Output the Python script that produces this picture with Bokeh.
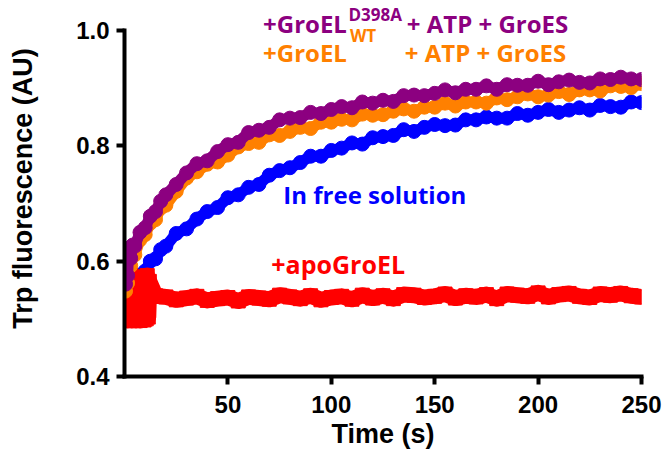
from bokeh.plotting import figure
from bokeh.models import Label, FixedTicker, PrintfTickFormatter, Range1d
from bokeh.embed import file_html
from bokeh.resources import INLINE

# ---------------- data ----------------
t_main = [0.5, 1, 1.5, 2, 3, 4, 5, 7.5, 10, 12.5, 15, 17.5,
          20, 25, 30, 35, 40, 45, 50, 55, 60, 65, 70, 75, 80, 85, 90, 95,
          100, 105, 110, 115, 120, 125, 130, 135, 140, 145, 150, 155, 160,
          165, 170, 175, 180, 185, 190, 195, 200, 205, 210, 215, 220, 225,
          230, 235, 240, 245, 250]

groel_d398a = [0.560, 0.622, 0.575, 0.615, 0.605, 0.628, 0.626, 0.650, 0.658, 0.678, 0.686, 0.704,
               0.715, 0.733, 0.753, 0.769, 0.774, 0.790, 0.802, 0.806, 0.823, 0.827, 0.832, 0.845,
               0.848, 0.849, 0.858, 0.856, 0.863, 0.868, 0.866, 0.876, 0.874, 0.879, 0.877, 0.887,
               0.888, 0.887, 0.891, 0.897, 0.892, 0.898, 0.898, 0.904, 0.898, 0.906, 0.905, 0.905,
               0.912, 0.906, 0.911, 0.914, 0.910, 0.909, 0.916, 0.915, 0.919, 0.916, 0.915]

groel_wt = [0.548, 0.585, 0.562, 0.592, 0.592, 0.612, 0.611, 0.637, 0.646, 0.666, 0.672, 0.692,
            0.697, 0.721, 0.744, 0.755, 0.768, 0.772, 0.784, 0.798, 0.804, 0.806, 0.819, 0.818,
            0.825, 0.832, 0.830, 0.841, 0.841, 0.846, 0.845, 0.855, 0.853, 0.854, 0.860, 0.864,
            0.860, 0.867, 0.867, 0.874, 0.869, 0.876, 0.876, 0.874, 0.883, 0.880, 0.885, 0.890,
            0.885, 0.888, 0.894, 0.889, 0.897, 0.897, 0.895, 0.904, 0.903, 0.901, 0.908]

free_solution = [0.526, 0.538, 0.532, 0.548, 0.547, 0.559, 0.558, 0.576, 0.583, 0.600, 0.604, 0.620,
                 0.626, 0.648, 0.656, 0.673, 0.686, 0.693, 0.710, 0.715, 0.728, 0.733, 0.749, 0.757,
                 0.762, 0.771, 0.782, 0.782, 0.792, 0.796, 0.805, 0.803, 0.814, 0.816, 0.818, 0.828,
                 0.825, 0.832, 0.837, 0.835, 0.836, 0.845, 0.845, 0.850, 0.848, 0.848, 0.856, 0.853,
                 0.858, 0.863, 0.858, 0.862, 0.866, 0.862, 0.870, 0.868, 0.867, 0.876, 0.875]

t_apo = [0.5, 1, 1.5, 2, 2.5, 3, 3.5, 4, 4.5, 5, 5.5, 6, 6.5, 7, 7.5, 8, 8.5, 9, 9.5, 10,
         10.5, 11, 11.5, 12, 15,
         20, 25, 30, 35, 40, 45, 50, 55, 60, 65, 70, 75, 80, 85, 90, 95,
         100, 105, 110, 115, 120, 125, 130, 135, 140, 145, 150, 155, 160,
         165, 170, 175, 180, 185, 190, 195, 200, 205, 210, 215, 220, 225,
         230, 235, 240, 245, 250]

apo_groel = [0.515, 0.565, 0.497, 0.570, 0.500, 0.575, 0.497, 0.570, 0.502, 0.565, 0.497, 0.572,
             0.500, 0.568, 0.497, 0.572, 0.502, 0.566, 0.498, 0.570, 0.500, 0.575, 0.503, 0.565,
             0.540,
             0.538, 0.533, 0.536, 0.539, 0.532, 0.535, 0.537, 0.531, 0.538, 0.536, 0.534, 0.541,
             0.538, 0.535, 0.540, 0.533, 0.537, 0.539, 0.534, 0.541, 0.536, 0.540, 0.535, 0.542,
             0.541, 0.537, 0.539, 0.543, 0.536, 0.540, 0.538, 0.542, 0.535, 0.543, 0.541, 0.539,
             0.545, 0.538, 0.542, 0.544, 0.539, 0.537, 0.543, 0.541, 0.544, 0.540, 0.538]

x_ticks = [50, 100, 150, 200, 250]
y_ticks = [0.4, 0.6, 0.8, 1.0]

PURPLE = "#8C0080"
ORANGE = "#FF8000"
BLUE = "#0000FF"
RED = "#FF0000"

# ---------------- figure ----------------
p = figure(width=664, height=460, output_backend="svg", toolbar_location=None,
           x_range=Range1d(0, 250), y_range=Range1d(0.4, 1.052),
           min_border_left=124, min_border_right=23, min_border_top=0, min_border_bottom=84)
p.outline_line_color = None
p.grid.visible = False
p.background_fill_color = "white"

# series: blue, red, orange, purple (purple on top)
p.line(t_main, free_solution, line_width=11, color=BLUE, line_join="round", line_cap="round")
p.scatter(t_main, free_solution, marker="circle", size=14, color=BLUE)

p.line(t_apo, apo_groel, line_width=16, color=RED, line_join="round", line_cap="round")
p.scatter(t_apo, apo_groel, marker="square", size=14, color=RED)

p.line(t_main, groel_wt, line_width=11, color=ORANGE, line_join="round", line_cap="round")
p.scatter(t_main, groel_wt, marker="circle", size=14, color=ORANGE)

p.line(t_main, groel_d398a, line_width=11, color=PURPLE, line_join="round", line_cap="round")
p.scatter(t_main, groel_d398a, marker="circle", size=14, color=PURPLE)

# axes
for ax in (p.xaxis[0], p.yaxis[0]):
    ax.axis_line_width = 4
    ax.axis_line_color = "black"
    ax.axis_line_cap = "square"
    ax.major_tick_line_width = 4
    ax.major_tick_line_color = "black"
    ax.major_tick_out = 8
    ax.major_tick_in = 0
    ax.minor_tick_line_color = None
    ax.major_label_text_font = "Liberation Sans"
    ax.major_label_text_font_style = "bold"
    ax.major_label_text_font_size = "24px"
    ax.major_label_text_color = "black"
    ax.axis_label_text_font = "Liberation Sans"
    ax.axis_label_text_font_style = "bold"
    ax.axis_label_text_font_size = "27px"
    ax.axis_label_text_color = "black"

p.xaxis.ticker = FixedTicker(ticks=x_ticks)
p.yaxis.ticker = FixedTicker(ticks=y_ticks)
p.yaxis.formatter = PrintfTickFormatter(format="%.1f")
p.xaxis.bounds = (0, 250)
p.yaxis.bounds = (0.4, 1.0)
p.xaxis.axis_label = "Time (s)"
p.yaxis.axis_label = "Trp fluorescence (AU)"
p.xaxis.major_label_standoff = 11
p.xaxis.axis_label_standoff = 3
p.yaxis.major_label_standoff = 7
p.yaxis.axis_label_standoff = 35

# annotations
def lab(x, y, text, color, size="24px"):
    p.add_layout(Label(x=x, y=y, text=text, text_color=color, text_font="Open Sans",
                       text_font_style="bold", text_font_size=size,
                       text_baseline="alphabetic", text_align="left"))

lab(67.0, 1.012, "+GroEL", PURPLE)
lab(108.3, 1.0276, "D398A", PURPLE, "17px")
lab(136.5, 1.012, "+ ATP + GroES", PURPLE)
lab(67.0, 0.9616, "+GroEL", ORANGE)
lab(109.0, 0.9915, "WT", ORANGE, "17px")
lab(135.5, 0.9616, "+ ATP + GroES", ORANGE)
lab(76.8, 0.7156, "In free solution", BLUE)
lab(71.0, 0.5956, "+apoGroEL", RED, "25px")

open("out.html", "w").write(file_html(p, INLINE))
